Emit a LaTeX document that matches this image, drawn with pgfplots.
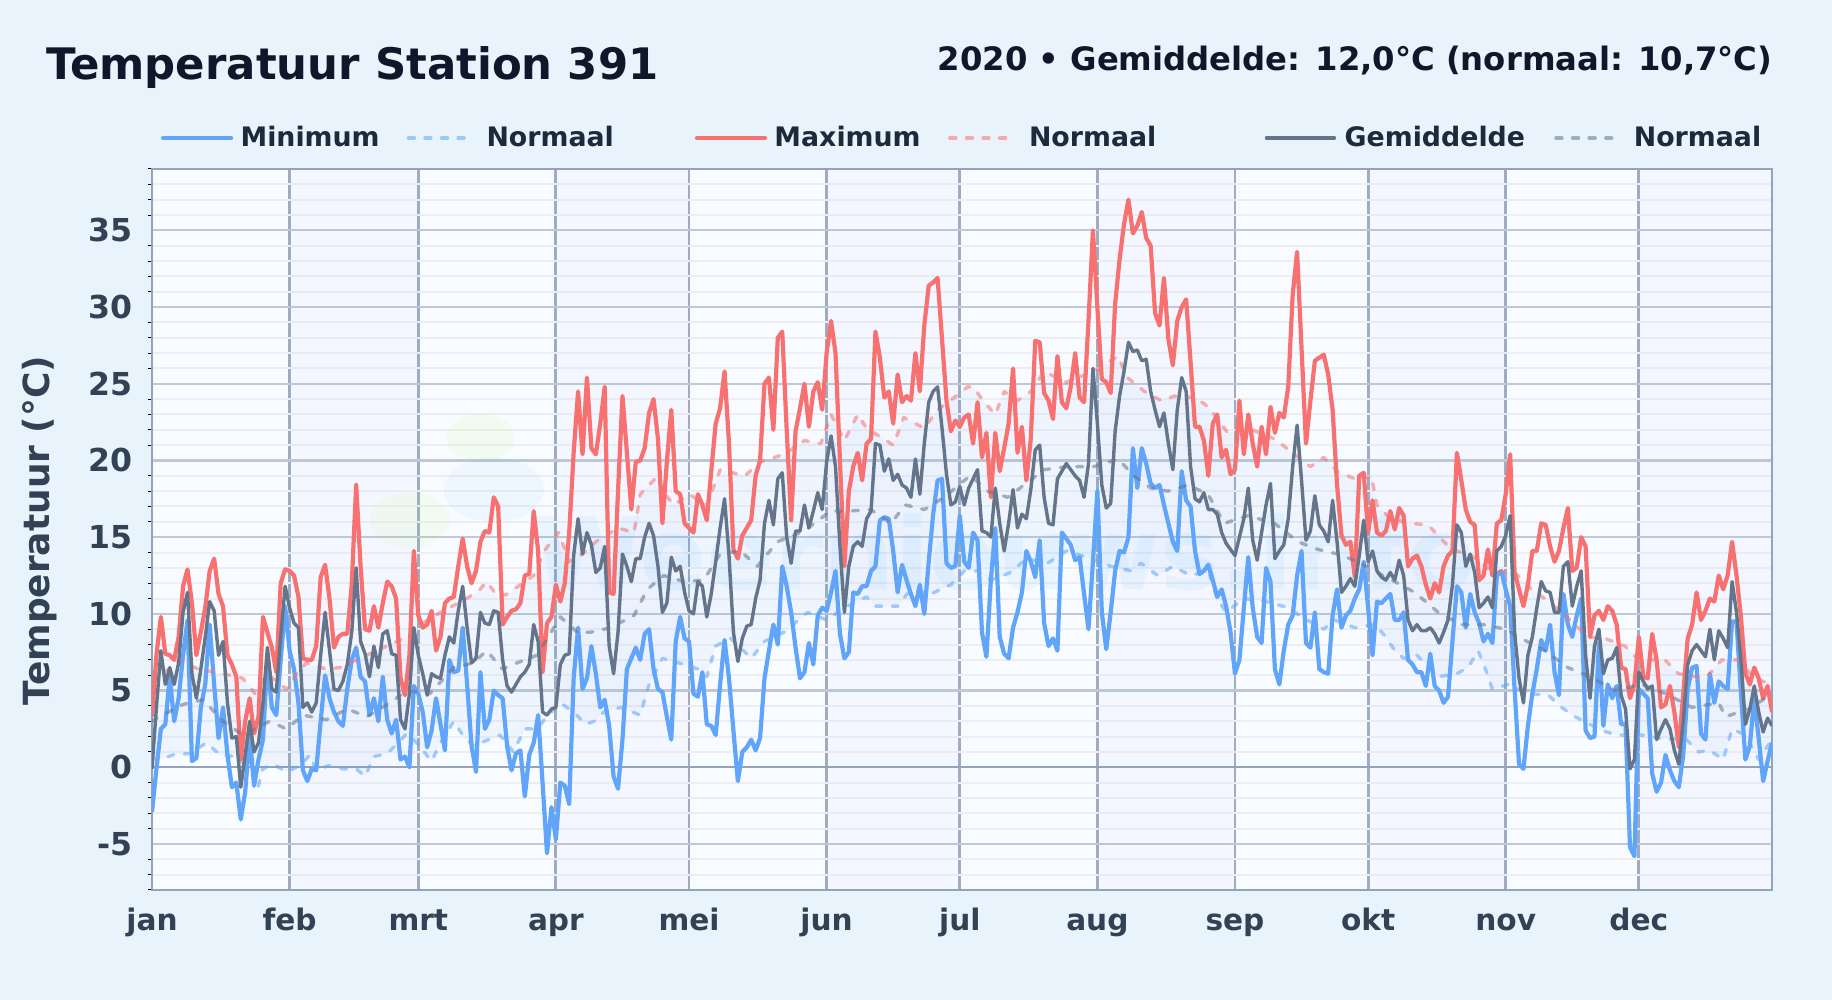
\documentclass[border=0pt]{standalone}
\usepackage{pgfplots}
\usepackage{fontspec}
\pgfplotsset{compat=1.18}
\setmainfont{DejaVu Sans}
\definecolor{pagebg}{HTML}{E8F3FC}
\definecolor{plotbg}{HTML}{F8FBFF}
\definecolor{titlecol}{HTML}{0F172A}
\definecolor{labelcol}{HTML}{334155}
\definecolor{legcol}{HTML}{1E293B}
\definecolor{framecol}{HTML}{94A3B8}
\definecolor{minline}{HTML}{60A5FA}
\definecolor{maxline}{HTML}{F87171}
\definecolor{meanline}{HTML}{64748B}
\newcommand{\fs}[1]{\fontsize{#1}{#1}\selectfont}
\pgfplotsset{
  solidimg/.style={legend image code/.code={\draw[##1,line cap=round] (0,0) -- (34pt,0);}},
  dashimg/.style={legend image code/.code={\draw[##1,line cap=round] (0,0) -- (29.5pt,0);}},
  normstyle/.style={line width=1.7pt,line cap=round,line join=round,dash pattern=on 3pt off 5.3pt,opacity=0.55},
}
\begin{document}
\begin{tikzpicture}
\fill[pagebg] (-76pt,-55pt) rectangle (840pt,445pt);
\begin{axis}[
  at={(0,0)},anchor=south west,
  scale only axis,width=810pt,height=360.5pt,
  xmin=0,xmax=365,ymin=-8,ymax=39,
  axis background/.style={fill=plotbg},
  axis line style={framecol,line width=1.4pt},
  xtick={0,31,60,91,121,152,182,213,244,274,305,335},
  xticklabels={jan,feb,mrt,apr,mei,jun,jul,aug,sep,okt,nov,dec},
  ytick={-5,0,5,10,15,20,25,30,35},
  minor ytick={-8,-7,-6,-4,-3,-2,-1,1,2,3,4,6,7,8,9,11,12,13,14,16,17,18,19,21,22,23,24,26,27,28,29,31,32,33,34,36,37,38,39},
  tick pos=left,tick align=outside,
  major tick length=0pt,minor tick length=2pt,
  major tick style={draw=none},
  minor tick style={black,line width=0.5pt},
  xmajorgrids,ymajorgrids,yminorgrids,
  major grid style={color=framecol!60,line width=1.1pt},
  minor grid style={color=framecol!18,line width=1pt},
  x grid style={color=framecol!90,line width=1.4pt},
  /pgf/number format/assume math mode=true,
  xticklabel style={font=\bfseries\fs{14.8},text=labelcol,text height=11pt,text depth=3pt,yshift=-5.7pt},
  yticklabel style={font=\bfseries\fs{15.8},text=labelcol,xshift=-6pt},
  ylabel={Temperatuur (°C)},
  every axis y label/.style={at={(axis description cs:0,0.5)},xshift=-56.2pt,yshift=-0.6pt,rotate=90,anchor=center,font=\bfseries\fs{18},text=labelcol},
  legend columns=6,
  legend style={at={(0,1)},anchor=west,xshift=4.5pt,yshift=15.5pt,draw=none,fill=none,
    font=\bfseries\fs{13.4},text=legcol,inner sep=0pt,outer sep=0pt,
    nodes={inner sep=0pt},
    /tikz/column 1/.style={column sep=3.7pt},
    /tikz/column 2/.style={column sep=13.5pt},
    /tikz/column 3/.style={column sep=8.75pt},
    /tikz/column 4/.style={column sep=40.5pt},
    /tikz/column 5/.style={column sep=3.7pt},
    /tikz/column 6/.style={column sep=13.75pt},
    /tikz/column 7/.style={column sep=9.25pt},
    /tikz/column 8/.style={column sep=54.2pt},
    /tikz/column 9/.style={column sep=4.25pt},
    /tikz/column 10/.style={column sep=14.6pt},
    /tikz/column 11/.style={column sep=8.6pt},
  },
]
% month shading and faint watermark
\fill[blue!25!plotbg,opacity=0.05] (axis cs:31,-8) rectangle (axis cs:60,39);
\fill[blue!25!plotbg,opacity=0.05] (axis cs:91,-8) rectangle (axis cs:121,39);
\fill[blue!25!plotbg,opacity=0.05] (axis cs:152,-8) rectangle (axis cs:182,39);
\fill[blue!25!plotbg,opacity=0.05] (axis cs:213,-8) rectangle (axis cs:244,39);
\fill[blue!25!plotbg,opacity=0.05] (axis cs:274,-8) rectangle (axis cs:305,39);
\fill[blue!25!plotbg,opacity=0.05] (axis cs:335,-8) rectangle (axis cs:365,39);
\fill[green!45!yellow,opacity=0.05] (axis cs:74,21.5) ellipse[x radius=17pt,y radius=12pt];
\fill[green!45!yellow,opacity=0.05] (axis cs:58,16.1) ellipse[x radius=20pt,y radius=14pt];
\fill[blue!50!cyan,opacity=0.04] (axis cs:77,18.1) ellipse[x radius=25pt,y radius=16pt];
\node[font=\bfseries\fs{50},text=blue!40!cyan,opacity=0.06] at (axis cs:192,14) {Weernieuws.info};
\draw[framecol,line width=1.2pt] (axis cs:0,0) -- (axis cs:365,0);

% band between the normals
\addplot[draw=none,fill=minline,fill opacity=0.06,forget plot] coordinates {
(0,0.6)(1.7,0.5)(4.7,0.8)(8.5,0.9)(12.3,1.6)(15.3,0.8)(19,0.7)(22.8,-0.4)(23.9,-1.3)(25,-0.1)(27.3,0.2)(30.3,-0.3)(33.3,0.1)(35.6,0.8)(37,-0.2)(39.7,0.1)(43,-0.1)(46,-0.1)(48,-0.6)(50,0.7)(53,0.9)(55.5,1.6)(57.4,2.2)(59.6,1.6)(63,0.4)(65,1.6)(68,3)(70,2.1)(72.4,1.4)(78.4,2.1)(81.4,1)(84,2.5)(86.7,2.5)(89,3.3)
(92,4.2)(95,3.6)(97.7,2.8)(99.6,3)(101.8,3.6)(105.6,3.9)(110,3.4)(112,5.4)(115,7.1)(120,6.7)(123,6.4)(125,5.9)(127,7.9)(130.4,8.4)(135,7.1)(138,8.2)(142.4,8.8)(147.7,10.1)(152,9.6)(156,10.4)(161,11.1)(163,10.5)(168,10.5)(171,11.6)(175.5,11.3)(180,11.9)(183,12.8)
(186,12.8)(189,12.2)(193.5,12.7)(197,13.6)(201.8,13.3)(206,14.1)(211.6,13.6)(216,13.1)(220.6,12.8)(222.8,13.3)(226.6,12.5)(230,13.1)(234,12.5)(238,12.8)(240,11)(242,10.1)(246,11)(251,10.8)(256,10.4)(259,9.8)(264,9)(266.4,9.6)(271,9.1)(275.5,9.3)
(278,8.5)(280,7.6)(282,7.1)(285,7.3)(289.8,5.9)(294,6.1)(296.5,6.5)(298.8,7.6)(300.7,6.2)(302,5.1)(305.6,5.4)(310,4.8)(314.6,4.7)(317.6,3.9)(320.6,3.3)(326.6,2.4)(330,2.1)(336.4,2.1)(341,1.8)(345.4,1.9)(348.4,1)(351,1.1)(354,0.5)(356,2.5)(359,2.1)(362,0.5)(365,1.8)
(365,5.4)(361,5.8)(357.4,7)(353.7,7)(350,5.8)(343.9,6.1)(340.9,7)(334.9,7)(331.9,7.9)(327.4,8.4)(323.6,8.5)(317.6,10.1)(313.8,11)(310.8,11.6)(307,12.7)(301.8,12.8)(297.3,13.8)(292.8,14.2)(287.5,15.8)(283.7,15.9)(279,16.2)
(276,17.1)(274.7,19)(271.8,18.7)(267,19.3)(264,20.2)(261,19.6)(257.4,20.4)(253,21.4)(247,22.1)(242.4,21.8)(238,23.5)(235,24.1)(230.4,24.2)(227.4,23.9)(223.6,24.5)(219.8,25.4)(217.6,26.8)(212,25.8)(206,25.1)(201,25.8)(198,24.5)(195,23.9)(192,24.5)(190,23)(187.5,23.8)(185,24.8)
(183.8,24.8)(180.7,24.1)(177,23.3)(174,22.1)(169.4,22.8)(167,21)(164.9,21.4)(161,22.1)(159,23)(156,21.3)(153,23)(150.7,21.1)(147,21.3)(142.4,20.4)(137,19.9)(133.6,19)(128,19.4)(125,17.1)(121,17.8)(117.6,17.1)(115,18)(114,19)(110,17.8)(108.6,15.3)(105,15.6)(100,14.7)(97,13.9)(94,13.4)
(91.6,15.3)(88.6,14.2)(86,12.5)(83,11.9)(80,11.3)(78,11.1)(75.4,12.1)(73.9,11.6)(70.9,11)(65,10.1)(60.4,9.3)(57.4,8.5)(52.9,7.9)(46,7)(42.3,6.5)(39.3,6.4)(34.8,6.8)(32.6,6.1)(30.3,5.1)(25.8,6.1)(23.2,4.8)(20.5,5.8)(16,6.1)(10.4,6.4)(6.2,7)(1.7,5.9)(0,5.5)
} \closedcycle;

% minimum
\addplot[minline,line width=2.1pt,line join=round,solidimg] coordinates {
(0,-2.9)(1,-0.1)(2,2.5)(3,2.8)(4,5.9)(5,3)(6,4.5)(7,7.3)(8,9.6)(9,0.4)(10,0.6)(11,3.9)(12,5.4)(13,9.3)(14,5.4)(15,1.9)(16,3.9)(17,0.8)(18,-1.3)(19,-1)(20,-3.4)(21,-1.6)(22,2.1)(23,-1.2)(24,0.5)(25,1.8)(26,7)(27,3.9)(28,3.4)(29,7)(30,10.5)
(31,7.6)(32,6.4)(33,4.2)(34,-0.2)(35,-0.9)(36,-0.1)(37,-0.2)(38,3)(39,6)(40,4.5)(41,3.6)(42,3)(43,2.7)(44,5.1)(45,7)(46,7.8)(47,5.9)(48,5.6)(49,3.4)(50,4.5)(51,3)(52,5.9)(53,3.1)(54,2.2)(55,3.1)(56,0.5)(57,0.7)(58,0)(59,5.3)
(60,4.8)(61,3.6)(62,1.3)(63,2.4)(64,4.5)(65,2.8)(66,1.1)(67,7)(68,6.2)(69,6.3)(70,9.1)(71,5.4)(72,1.4)(73,-0.3)(74,6.2)(75,2.5)(76,3.1)(77,5)(78,4.7)(79,4.5)(80,1.4)(81,-0.2)(82,0.9)(83,1.1)(84,-1.9)(85,0.8)(86,1.6)(87,3.4)(88,-1)(89,-5.6)(90,-2.6)
(91,-4.7)(92,-1)(93,-1.2)(94,-2.4)(95,5.8)(96,9.1)(97,5.1)(98,5.8)(99,7.9)(100,6.1)(101,3.9)(102,4.4)(103,2.7)(104,-0.6)(105,-1.4)(106,1.8)(107,6.4)(108,7.1)(109,7.8)(110,7)(111,8.7)(112,9)(113,6.4)(114,5.1)(115,4.9)(116,3.3)(117,1.8)(118,8.2)(119,9.8)(120,8.4)
(121,8.2)(122,4.8)(123,4.6)(124,6.2)(125,2.8)(126,2.7)(127,2.1)(128,5.4)(129,8.3)(130,5.8)(131,2.4)(132,-0.9)(133,1)(134,1.3)(135,1.8)(136,1.1)(137,1.9)(138,5.8)(139,7.6)(140,9.3)(141,8)(142,13.1)(143,11.8)(144,10.1)(145,7.8)(146,5.8)(147,6.2)(148,8.1)(149,6.7)(150,9.9)(151,10.4)
(152,10.2)(153,11.4)(154,12.8)(155,8.7)(156,7.1)(157,7.5)(158,11.4)(159,11.3)(160,11.8)(161,11.8)(162,12.8)(163,13.1)(164,16.1)(165,16.3)(166,16.2)(167,14.1)(168,11.4)(169,13.2)(170,12.2)(171,11.3)(172,10.5)(173,11.9)(174,10)(175,13.4)(176,16.5)(177,18.7)(178,18.8)(179,13.3)(180,13)(181,13.1)
(182,16.4)(183,13.4)(184,13)(185,15.3)(186,14.8)(187,8.8)(188,7.2)(189,12.2)(190,15.6)(191,8.5)(192,7.4)(193,7.1)(194,9.1)(195,10.1)(196,11.4)(197,14.1)(198,13.4)(199,12.4)(200,14.8)(201,9.4)(202,7.9)(203,8.4)(204,7.6)(205,15.3)(206,14.9)(207,14.5)(208,13.5)(209,13.7)(210,11.3)(211,9)(212,13.4)
(213,18)(214,10.1)(215,7.7)(216,10.1)(217,12.8)(218,14.1)(219,14)(220,15)(221,20.8)(222,18.2)(223,20.8)(224,19.8)(225,18.5)(226,18.2)(227,18.4)(228,17.1)(229,15.9)(230,14.7)(231,14.1)(232,19.3)(233,17.4)(234,17)(235,14.1)(236,12.6)(237,12.8)(238,13.2)(239,12.2)(240,11.1)(241,11.6)(242,10.5)(243,8.8)
(244,6.1)(245,7)(246,10.4)(247,13.7)(248,10.4)(249,8.5)(250,8.1)(251,13)(252,12.1)(253,6.4)(254,5.4)(255,7.6)(256,9.3)(257,9.9)(258,12.5)(259,14.1)(260,8.1)(261,7.8)(262,10.1)(263,6.4)(264,6.2)(265,6.1)(266,9.9)(267,11.6)(268,9.1)(269,9.9)(270,10.2)(271,11)(272,11.6)(273,13.4)
(274,10.4)(275,7.3)(276,10.8)(277,10.7)(278,11)(279,11.3)(280,9.6)(281,9.6)(282,10.1)(283,7)(284,6.7)(285,6.2)(286,6.2)(287,5.3)(288,7.4)(289,5.3)(290,5)(291,4.2)(292,4.6)(293,8.2)(294,11.8)(295,11.4)(296,9.1)(297,11.3)(298,10.1)(299,9.4)(300,8.2)(301,8.7)(302,8.1)(303,12.5)(304,12.8)
(305,11.6)(306,10.5)(307,5.1)(308,0.2)(309,-0.1)(310,2.7)(311,4.8)(312,6.4)(313,8.3)(314,7.6)(315,9.3)(316,6.2)(317,4.7)(318,11.3)(319,9.3)(320,8.5)(321,9.9)(322,11)(323,2.4)(324,1.9)(325,2)(326,8.1)(327,2.7)(328,5.4)(329,4.5)(330,5.3)(331,2.8)(332,2.8)(333,-5.2)(334,-5.8)
(335,5.1)(336,4.8)(337,4.5)(338,-0.4)(339,-1.6)(340,-1)(341,0.8)(342,-0.2)(343,-0.9)(344,-1.3)(345,0.8)(346,5.1)(347,6.5)(348,6.6)(349,2.2)(350,1.8)(351,6.1)(352,4.2)(353,5.6)(354,5.3)(355,5.1)(356,9.5)(357,9.5)(358,4.8)(359,0.5)(360,1.4)(361,4.5)(362,1.9)(363,-0.9)(364,0.4)(365,1.6)
};
\addlegendentry{Minimum}
% normal minimum
\addplot[minline,normstyle,dashimg] coordinates {
(0,0.6)(1.7,0.5)(4.7,0.8)(8.5,0.9)(12.3,1.6)(15.3,0.8)(19,0.7)(22.8,-0.4)(23.9,-1.3)(25,-0.1)(27.3,0.2)(30.3,-0.3)(33.3,0.1)(35.6,0.8)(37,-0.2)(39.7,0.1)(43,-0.1)(46,-0.1)(48,-0.6)(50,0.7)(53,0.9)(55.5,1.6)(57.4,2.2)(59.6,1.6)(63,0.4)(65,1.6)(68,3)(70,2.1)(72.4,1.4)(78.4,2.1)(81.4,1)(84,2.5)(86.7,2.5)(89,3.3)
(92,4.2)(95,3.6)(97.7,2.8)(99.6,3)(101.8,3.6)(105.6,3.9)(110,3.4)(112,5.4)(115,7.1)(120,6.7)(123,6.4)(125,5.9)(127,7.9)(130.4,8.4)(135,7.1)(138,8.2)(142.4,8.8)(147.7,10.1)(152,9.6)(156,10.4)(161,11.1)(163,10.5)(168,10.5)(171,11.6)(175.5,11.3)(180,11.9)(183,12.8)
(186,12.8)(189,12.2)(193.5,12.7)(197,13.6)(201.8,13.3)(206,14.1)(211.6,13.6)(216,13.1)(220.6,12.8)(222.8,13.3)(226.6,12.5)(230,13.1)(234,12.5)(238,12.8)(240,11)(242,10.1)(246,11)(251,10.8)(256,10.4)(259,9.8)(264,9)(266.4,9.6)(271,9.1)(275.5,9.3)
(278,8.5)(280,7.6)(282,7.1)(285,7.3)(289.8,5.9)(294,6.1)(296.5,6.5)(298.8,7.6)(300.7,6.2)(302,5.1)(305.6,5.4)(310,4.8)(314.6,4.7)(317.6,3.9)(320.6,3.3)(326.6,2.4)(330,2.1)(336.4,2.1)(341,1.8)(345.4,1.9)(348.4,1)(351,1.1)(354,0.5)(356,2.5)(359,2.1)(362,0.5)(365,1.8)
};
\addlegendentry{Normaal}
% maximum
\addplot[maxline,line width=2.1pt,line join=round,solidimg] coordinates {
(0,3.3)(1,7.3)(2,9.8)(3,7.4)(4,7.3)(5,7)(6,8.5)(7,11.8)(8,12.9)(9,10.7)(10,7.3)(11,8.8)(12,10.4)(13,12.8)(14,13.6)(15,11.3)(16,10.5)(17,7.3)(18,6.7)(19,5.9)(20,0.5)(21,3)(22,4.5)(23,2.2)(24,3.3)(25,9.8)(26,8.8)(27,7.8)(28,6.2)(29,12)(30,12.9)
(31,12.8)(32,12.5)(33,11.1)(34,7.1)(35,7)(36,7)(37,7.9)(38,12.4)(39,13.2)(40,11)(41,7.8)(42,8.5)(43,8.7)(44,8.7)(45,11.9)(46,18.4)(47,13.1)(48,9)(49,8.9)(50,10.5)(51,9.1)(52,10.7)(53,12.1)(54,11.8)(55,11)(56,5.8)(57,4.7)(58,7.3)(59,14.1)
(60,9.9)(61,9.1)(62,9.3)(63,10.2)(64,7.6)(65,8.5)(66,10.7)(67,11)(68,11.1)(69,13.1)(70,14.9)(71,13.1)(72,12)(73,12.8)(74,14.7)(75,15.4)(76,15.3)(77,17.6)(78,17)(79,9.3)(80,9.8)(81,10.2)(82,10.3)(83,10.7)(84,12.5)(85,12.6)(86,16.7)(87,14.1)(88,6.2)(89,9.4)(90,9.8)
(91,11.9)(92,10.8)(93,12)(94,15.3)(95,20.5)(96,24.5)(97,20.4)(98,25.4)(99,20.8)(100,20.4)(101,22.4)(102,24.8)(103,11.4)(104,11.3)(105,18)(106,24.2)(107,20.5)(108,16.8)(109,19.9)(110,20)(111,20.8)(112,23.1)(113,24)(114,21.4)(115,15.9)(116,19.9)(117,23.3)(118,18)(119,17.8)(120,15.9)
(121,15.6)(122,15.3)(123,17.8)(124,17.1)(125,16.1)(126,19.3)(127,22.4)(128,23.4)(129,25.8)(130,21.1)(131,14.2)(132,13.6)(133,15.1)(134,15.6)(135,16.1)(136,19)(137,20)(138,25)(139,25.4)(140,22)(141,28)(142,28.4)(143,22)(144,16.1)(145,21.9)(146,23.4)(147,25)(148,22.2)(149,24.5)(150,25.1)(151,23.3)
(152,27)(153,29.1)(154,27)(155,20)(156,13.1)(157,18)(158,19.6)(159,20.5)(160,18.7)(161,21.1)(162,21.4)(163,28.4)(164,26.7)(165,24.1)(166,24.5)(167,22.4)(168,25.6)(169,23.8)(170,24.2)(171,23.9)(172,27)(173,24.5)(174,28.8)(175,31.4)(176,31.6)(177,31.9)(178,27.9)(179,23.9)(180,21.9)(181,22.6)
(182,22.2)(183,22.8)(184,23)(185,21.1)(186,23.8)(187,20.2)(188,21.8)(189,17.6)(190,21.8)(191,19.3)(192,20.8)(193,22.4)(194,26)(195,20.5)(196,22.2)(197,18.7)(198,21.4)(199,27.8)(200,27.7)(201,24.4)(202,23.9)(203,22.7)(204,26.8)(205,23.8)(206,23.4)(207,24.8)(208,27)(209,24.1)(210,23.8)(211,29.1)(212,35)
(213,30)(214,25.3)(215,25.1)(216,24.4)(217,30.2)(218,33.1)(219,35.4)(220,37)(221,34.8)(222,35.3)(223,36.2)(224,34.5)(225,34)(226,29.6)(227,28.8)(228,31.9)(229,27.9)(230,26.2)(231,29.1)(232,30)(233,30.5)(234,26.4)(235,22.2)(236,22.2)(237,21.3)(238,19)(239,22.4)(240,23)(241,20.2)(242,20.7)(243,19.1)
(244,19.4)(245,23.9)(246,20.4)(247,23)(248,21.1)(249,19.6)(250,22.2)(251,20.4)(252,23.5)(253,21.8)(254,23.1)(255,22.8)(256,24.8)(257,30.8)(258,33.6)(259,27.3)(260,21.1)(261,23.9)(262,26.5)(263,26.7)(264,26.9)(265,25.6)(266,23.3)(267,18.4)(268,15.1)(269,14.5)(270,14.7)(271,12.4)(272,19)(273,19.2)
(274,15.3)(275,17.4)(276,15.3)(277,15.1)(278,15.4)(279,16.7)(280,15.5)(281,16.9)(282,16.4)(283,13.1)(284,13.6)(285,13.8)(286,13.1)(287,11.9)(288,11)(289,12)(290,11.4)(291,13.1)(292,13.8)(293,14.1)(294,20.5)(295,18.7)(296,16.8)(297,16)(298,15.8)(299,12.2)(300,12.5)(301,14.2)(302,12.5)(303,15.9)(304,16.1)
(305,17.8)(306,20.4)(307,12.7)(308,11.6)(309,10.5)(310,11.9)(311,14.1)(312,14.1)(313,15.9)(314,15.8)(315,14.4)(316,13.4)(317,14.1)(318,15.6)(319,16.9)(320,12.8)(321,13)(322,15)(323,14.4)(324,8.5)(325,9.9)(326,10.2)(327,9.6)(328,10.5)(329,10.2)(330,9.3)(331,6.5)(332,6.4)(333,4.5)(334,5.4)
(335,8.5)(336,5.9)(337,5.8)(338,8.7)(339,7)(340,3.9)(341,4.1)(342,5.3)(343,3.6)(344,1.3)(345,4.8)(346,8.4)(347,9.3)(348,11.4)(349,9.6)(350,10.2)(351,11)(352,10.8)(353,12.5)(354,11.6)(355,12.5)(356,14.7)(357,12.5)(358,9.8)(359,6.1)(360,5.4)(361,6.5)(362,5.8)(363,4.5)(364,5.3)(365,3.6)
};
\addlegendentry{Maximum}
% normal maximum
\addplot[maxline,normstyle,dashimg] coordinates {
(0,5.5)(1.7,5.9)(6.2,7)(10.4,6.4)(16,6.1)(20.5,5.8)(23.2,4.8)(25.8,6.1)(30.3,5.1)(32.6,6.1)(34.8,6.8)(39.3,6.4)(42.3,6.5)(46,7)(52.9,7.9)(57.4,8.5)(60.4,9.3)(65,10.1)(70.9,11)(73.9,11.6)(75.4,12.1)(78,11.1)(80,11.3)(83,11.9)(86,12.5)(88.6,14.2)(91.6,15.3)
(94,13.4)(97,13.9)(100,14.7)(105,15.6)(108.6,15.3)(110,17.8)(114,19)(115,18)(117.6,17.1)(121,17.8)(125,17.1)(128,19.4)(133.6,19)(137,19.9)(142.4,20.4)(147,21.3)(150.7,21.1)(153,23)(156,21.3)(159,23)(161,22.1)(164.9,21.4)(167,21)(169.4,22.8)(174,22.1)(177,23.3)(180.7,24.1)(183.8,24.8)
(185,24.8)(187.5,23.8)(190,23)(192,24.5)(195,23.9)(198,24.5)(201,25.8)(206,25.1)(212,25.8)(217.6,26.8)(219.8,25.4)(223.6,24.5)(227.4,23.9)(230.4,24.2)(235,24.1)(238,23.5)(242.4,21.8)(247,22.1)(253,21.4)(257.4,20.4)(261,19.6)(264,20.2)(267,19.3)(271.8,18.7)(274.7,19)(276,17.1)
(279,16.2)(283.7,15.9)(287.5,15.8)(292.8,14.2)(297.3,13.8)(301.8,12.8)(307,12.7)(310.8,11.6)(313.8,11)(317.6,10.1)(323.6,8.5)(327.4,8.4)(331.9,7.9)(334.9,7)(340.9,7)(343.9,6.1)(350,5.8)(353.7,7)(357.4,7)(361,5.8)(365,5.4)
};
\addlegendentry{Normaal}
% mean
\addplot[meanline,line width=1.7pt,line join=round,solidimg] coordinates {
(0,-0.1)(1,3.9)(2,7.6)(3,5.4)(4,6.5)(5,5.4)(6,6.8)(7,10.1)(8,11.4)(9,6.1)(10,4.5)(11,6.4)(12,8.5)(13,10.8)(14,10.2)(15,7.3)(16,8.2)(17,4.2)(18,1.9)(19,2)(20,-1.3)(21,0.8)(22,3)(23,1)(24,1.6)(25,4.2)(26,7.8)(27,5.1)(28,4.9)(29,8.5)(30,11.8)
(31,10.4)(32,9.4)(33,9.1)(34,3.9)(35,4.2)(36,3.6)(37,4.2)(38,7.3)(39,10.1)(40,7.6)(41,5.1)(42,5)(43,5.6)(44,6.7)(45,8.8)(46,13)(47,8.2)(48,7.4)(49,5.9)(50,7.9)(51,6.5)(52,8.7)(53,8.9)(54,7.4)(55,7.3)(56,3.1)(57,2.5)(58,4.8)(59,9.1)
(60,7.3)(61,6.1)(62,4.7)(63,6.1)(64,5.9)(65,5.8)(66,7.3)(67,8.5)(68,8.1)(69,10.2)(70,11.8)(71,9.1)(72,6.8)(73,7.1)(74,10.1)(75,9.4)(76,9.3)(77,10.2)(78,10.1)(79,7)(80,5.3)(81,4.9)(82,5.4)(83,5.9)(84,6.2)(85,6.7)(86,9.3)(87,8.2)(88,3.6)(89,3.4)(90,3.8)
(91,3.9)(92,6.7)(93,7.3)(94,7.4)(95,13.8)(96,16.2)(97,13.9)(98,15.3)(99,14.5)(100,12.7)(101,13)(102,14.4)(103,7.9)(104,6.1)(105,8.8)(106,13.9)(107,13.1)(108,12.1)(109,13.6)(110,13.6)(111,15)(112,15.9)(113,15.1)(114,13.1)(115,10.1)(116,10.7)(117,13.7)(118,12.8)(119,13.1)(120,11.4)
(121,10.2)(122,10)(123,12.1)(124,11.8)(125,9.8)(126,11.3)(127,13.4)(128,15.6)(129,17.5)(130,13.8)(131,8.8)(132,6.9)(133,8.4)(134,9.2)(135,9.3)(136,11)(137,12.2)(138,15.9)(139,17.4)(140,15.8)(141,18.8)(142,19.2)(143,15)(144,13.3)(145,15.4)(146,15.4)(147,17.1)(148,15.6)(149,16.7)(150,17.9)(151,16.8)
(152,19.9)(153,21.6)(154,19.6)(155,14.4)(156,10.1)(157,13.1)(158,14.4)(159,14.7)(160,14.4)(161,16.2)(162,16.7)(163,21.1)(164,21)(165,19.3)(166,20.1)(167,18.7)(168,19.1)(169,18.4)(170,18.2)(171,17.6)(172,20.1)(173,17.8)(174,21.1)(175,23.8)(176,24.5)(177,24.8)(178,22.1)(179,19.1)(180,17.1)(181,17.3)
(182,18.3)(183,17.1)(184,18.2)(185,18.8)(186,19.4)(187,15.4)(188,15.3)(189,15)(190,18.2)(191,15.9)(192,14.1)(193,15.9)(194,18.1)(195,15.6)(196,16.5)(197,16.2)(198,18.1)(199,20.7)(200,21)(201,17.6)(202,15.9)(203,15.8)(204,18.8)(205,19.3)(206,19.8)(207,19.4)(208,19)(209,18.7)(210,17.6)(211,19.8)(212,26)
(213,22.4)(214,18.4)(215,16.9)(216,17.2)(217,21.9)(218,24.2)(219,25.8)(220,27.7)(221,27.1)(222,27.2)(223,26.5)(224,26.6)(225,24.5)(226,23.3)(227,22.2)(228,23.1)(229,21.1)(230,19.4)(231,23.3)(232,25.4)(233,24.5)(234,19.6)(235,17.5)(236,17.3)(237,17.9)(238,16.8)(239,16.8)(240,16.5)(241,15.3)(242,14.6)(243,14.2)
(244,13.8)(245,15)(246,16.2)(247,18.2)(248,14.8)(249,13.5)(250,15.3)(251,17.1)(252,18.5)(253,13.6)(254,14.1)(255,14.5)(256,16.2)(257,19.6)(258,22.3)(259,18.7)(260,14.8)(261,15.4)(262,17.7)(263,15.8)(264,15.4)(265,14.7)(266,17.4)(267,14.7)(268,11.4)(269,11.8)(270,12.3)(271,11.8)(272,13.8)(273,16.1)
(274,13.4)(275,14.1)(276,12.8)(277,12.4)(278,12.2)(279,12.7)(280,12.2)(281,13.5)(282,12.5)(283,9.6)(284,8.9)(285,9.3)(286,8.9)(287,8.9)(288,9.1)(289,8.7)(290,8.1)(291,8.8)(292,9.6)(293,11.9)(294,15.8)(295,15.3)(296,13.1)(297,13.9)(298,12.7)(299,10.4)(300,10.7)(301,11.1)(302,10.4)(303,14.1)(304,14.4)
(305,15.1)(306,16.4)(307,8.8)(308,5.8)(309,4.2)(310,7.3)(311,8.5)(312,10.4)(313,12.1)(314,11.5)(315,11.4)(316,10.1)(317,10.1)(318,13.1)(319,13.4)(320,10.5)(321,11.8)(322,12.8)(323,7.3)(324,4.5)(325,7.9)(326,9)(327,6.1)(328,7)(329,7.1)(330,7.8)(331,4.7)(332,3.8)(333,-0.1)(334,0.5)
(335,6.2)(336,5.6)(337,5.1)(338,5.3)(339,1.8)(340,2.5)(341,3.1)(342,2.5)(343,1.1)(344,0.2)(345,3)(346,6.7)(347,7.6)(348,8)(349,7.6)(350,7.2)(351,9)(352,7)(353,8.9)(354,8.4)(355,7.8)(356,12.1)(357,10.1)(358,7)(359,2.8)(360,3.8)(361,5.3)(362,3.6)(363,2.3)(364,3.2)(365,2.7)
};
\addlegendentry{Gemiddelde}
% normal mean
\addplot[meanline,normstyle,dashimg] coordinates {
(0,3)(1.7,3.3)(7,4.1)(11.5,4.4)(16,3)(20.5,2.1)(26.5,3)(30.3,2.5)(34,3.4)(39.3,3.1)(44,3.8)(48.4,3.3)(53.6,4.2)(57.4,5)(62.6,4.8)(68,6.5)(72.4,6.8)(75.4,7.6)(79,6.4)(82.2,6.8)(86.7,7.3)(91,9.3)
(92,9.8)(95.8,8.8)(98.8,8.8)(103.3,9.1)(108.6,9.9)(111.6,11.6)(115.3,12.5)(119.9,12.1)(124.3,12.2)(128,13.9)(132.6,14.1)(136.4,13.1)(140.9,14.7)(146.9,15.4)(152.9,16.7)(157,16.7)(161.9,16.8)(166.5,15.9)(169.7,17.1)(174,16.8)(178.5,17.6)(183,18.7)
(184.5,19)(188.3,18)(192.8,17.6)(196.5,18.4)(201,19.4)(206.3,19.6)(212.3,19.6)(217.6,20.1)(221.3,19)(225,18.2)(228.9,18)(233.4,18.4)(237.9,17.8)(241.6,15.9)(246.9,16.4)(252.9,15.9)(258.2,14.7)(262.7,14.2)(267.2,13.9)(271.7,13.4)(276,12.7)
(280,12.1)(284.5,11.4)(289.8,10.1)(295,9.3)(300,9.3)(305,9)(308.5,8.4)(313.8,7.6)(319,6.5)(324,5.9)(329.6,5)(335.6,5.4)(341,4.8)(347,3.9)(353,4.2)(354.5,3.3)(359.8,3.8)(365,4.8)
};
\addlegendentry{Normaal}
\end{axis}
\node[anchor=base west,font=\bfseries\fs{21.7},text=titlecol,inner sep=0pt] at (-53pt,405.4pt) {Temperatuur Station 391};
\node[anchor=base east,font=\bfseries\fs{16.13},text=titlecol,inner sep=0pt] at (810.3pt,409.6pt) {2020 • Gemiddelde: 12,0°C (normaal: 10,7°C)};
\end{tikzpicture}
\end{document}
